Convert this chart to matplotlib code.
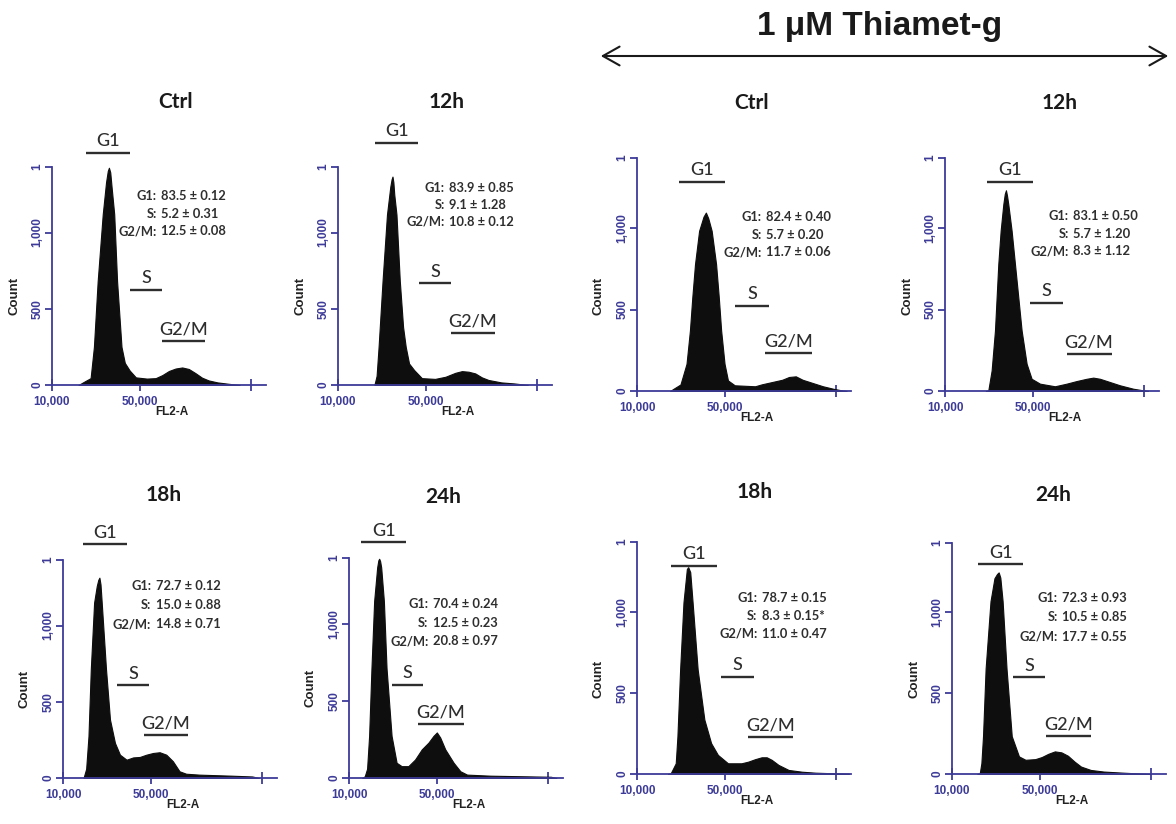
import matplotlib
matplotlib.use("Agg")
import matplotlib.pyplot as plt

# ---------------- data ----------------
panel_titles = ["Ctrl", "12h", "18h", "24h", "Ctrl", "12h", "18h", "24h"]

fl2_ctrl = [22000, 25000, 27500, 29000, 30700, 33000, 34500, 35300, 35800, 36400, 37000, 38200, 39500, 41500, 43000, 45200,
            48000, 53000, 57000, 60000, 63000, 66000, 69000, 72000, 75000, 78000, 81000, 85000, 90000, 95000]
count_ctrl = [0, 25, 45, 250, 680, 1120, 1330, 1405, 1425, 1395, 1300, 1120, 680, 250, 145, 95,
              50, 42, 45, 65, 92, 108, 115, 105, 78, 48, 30, 17, 8, 0]

fl2_12h = [26500, 27500, 28400, 30200, 32200, 33700, 34300, 34700, 35100, 35500, 36500, 38000, 39500, 40700, 42200,
           44500, 48000, 54000, 58700, 63200, 66200, 69200, 72200, 75200, 78200, 84000, 90000, 96000]
count_12h = [0, 60, 250, 684, 1118, 1300, 1350, 1367, 1330, 1250, 1118, 684, 380, 250, 141,
             98, 45, 40, 54, 80, 91, 87, 76, 50, 33, 17, 10, 0]

fl2_18h = [19300, 20500, 21550, 22600, 24100, 25300, 26000, 26500, 27000, 27550, 29500, 31300, 33550, 35800, 38800,
           41800, 44800, 47800, 50800, 53800, 56800, 59800, 62800, 65800, 71800, 86800, 95800, 98800]
count_18h = [0, 60, 274, 712, 1150, 1259, 1300, 1314, 1270, 1150, 712, 383, 230, 153, 120,
             135, 138, 153, 164, 169, 153, 110, 44, 28, 22, 15, 10, 0]

fl2_24h = [16000, 17140, 18200, 19120, 20180, 21400, 22770, 23300, 23680, 24100, 24590, 25810, 27020, 29300, 31580, 33860,
           36900, 39940, 42980, 46020, 48300, 49820, 51340, 53620, 57420, 60460, 63500, 74140, 101500, 104000]
count_24h = [0, 11, 60, 274, 712, 1150, 1369, 1415, 1425, 1410, 1369, 1150, 712, 274, 99, 77,
             77, 120, 186, 230, 274, 296, 263, 186, 99, 44, 22, 15, 8, 0]

fl2_tmg_ctrl = [25000, 26600, 29700, 32450, 33990, 35070, 36300, 38150, 40150, 41220, 42300, 43840, 45840, 47070, 48140,
                49680, 51220, 54300, 63520, 66600, 71210, 75830, 78900, 81980, 85050, 89670, 94280, 98900, 102740, 105000]
count_tmg_ctrl = [0, 14, 40, 167, 371, 575, 779, 983, 1070, 1095, 1060, 983, 779, 575, 371,
                  167, 65, 35, 29, 41, 55, 69, 86, 90, 69, 49, 29, 14, 4, 0]

fl2_tmg_12h = [28500, 29630, 31140, 32650, 34160, 35220, 36430, 37100, 37630, 38100, 38690, 40200, 41710, 43220, 44730, 47000,
               49260, 53040, 59830, 65110, 69640, 74180, 77200, 80220, 84750, 89280, 95320, 99850, 102000]
count_tmg_12h = [0, 4, 126, 371, 779, 983, 1146, 1210, 1232, 1200, 1146, 983, 779, 575, 371, 167,
                 75, 45, 29, 45, 61, 75, 82, 75, 55, 35, 14, 4, 0]

fl2_tmg_18h = [24000, 25270, 27560, 28320, 29550, 31070, 32600, 33210, 34130, 35200, 37490, 40540, 43590, 46650,
               51230, 57340, 60390, 63450, 66500, 68790, 71080, 74130, 78720, 84820, 90930, 100090, 106000]
count_tmg_18h = [0, 4, 66, 231, 645, 1058, 1264, 1275, 1244, 1058, 645, 335, 190, 118,
                 66, 66, 76, 91, 103, 103, 87, 56, 25, 14, 8, 4, 2]

fl2_tmg_24h = [21500, 22580, 23320, 24060, 25240, 27460, 29240, 30400, 31160, 31900, 32940, 34720, 37080, 40340, 43300,
               47740, 50700, 53660, 56620, 59580, 62540, 65500, 68460, 72900, 78820, 87700, 96580, 100000]
count_tmg_24h = [0, 4, 67, 234, 652, 1070, 1212, 1238, 1248, 1216, 1070, 652, 234, 109, 88,
                 92, 105, 125, 140, 134, 113, 77, 46, 25, 15, 8, 2, 0]

fl2_series = [fl2_ctrl, fl2_12h, fl2_18h, fl2_24h, fl2_tmg_ctrl, fl2_tmg_12h, fl2_tmg_18h, fl2_tmg_24h]
count_series = [count_ctrl, count_12h, count_18h, count_24h,
                count_tmg_ctrl, count_tmg_12h, count_tmg_18h, count_tmg_24h]

# phase percentages (mean, sd)
g1_mean = [83.5, 83.9, 72.7, 70.4, 82.4, 83.1, 78.7, 72.3]
g1_sd = [0.12, 0.85, 0.12, 0.24, 0.40, 0.50, 0.15, 0.93]
s_mean = [5.2, 9.1, 15.0, 12.5, 5.7, 5.7, 8.3, 10.5]
s_sd = [0.31, 1.28, 0.88, 0.23, 0.20, 1.20, 0.15, 0.85]
s_mark = ["", "", "", "", "", "", "*", ""]
g2m_mean = [12.5, 10.8, 14.8, 20.8, 11.7, 8.3, 11.0, 17.7]
g2m_sd = [0.08, 0.12, 0.71, 0.97, 0.06, 1.12, 0.47, 0.55]

# gate markers (FL2-A start, FL2-A end, count level)
gate_g1 = [(25450, 45250, 1525), (26950, 46450, 1588), (19000, 39100, 1533), (15620, 35840, 1533),
           (28900, 49700, 1285), (29180, 49710, 1285), (25580, 46340, 1285), (22000, 42100, 1300)]
gate_s = [(45550, 59950, 625), (46750, 61150, 668), (34600, 49000, 607), (29300, 43440, 607),
          (54600, 69700, 524), (48500, 63300, 541), (48180, 62990, 599), (37800, 52200, 600)]
gate_g2m = [(59950, 79450, 289), (61300, 80950, 343), (46600, 66700, 285), (41460, 61980, 350),
            (67800, 89350, 233), (65100, 85500, 228), (60090, 80850, 231), (52600, 72900, 234)]

x_ticks = [10000, 50000, 100000]
x_ticklabels = ["10,000", "50,000", ""]
y_ticks = [0, 500, 1000, 1430]
y_ticklabels = ["0", "500", "1,000", "1"]

# ---------------- layout (pixels) ----------------
W, H = 1176, 824
# left spine x, baseline y, axes height
panel_box = [(52, 385, 218), (338, 385, 218), (63, 778, 218), (349, 778, 220),
             (637, 391, 233), (945, 391, 233), (637, 774, 232), (952, 774, 231)]
title_pos = [(176, 102), (447, 102), (164, 495), (443, 497),
             (752, 103), (1060, 103), (755, 492), (1053, 495)]
# stats block: colon x (data), first line y (data), line step (data)
stats_pos = [(57550, 1237, 114), (58450, 1295, 112), (50050, 1259, 126), (46020, 1128, 120),
             (66600, 1069, 109), (66170, 1075, 109), (64670, 1083, 110), (58100, 1087, 118)]
AX_W = 214
XMAX = 107000
YMAX = 1430

BLUE = "#3d3b98"
TXT = "#2e2e2e"

fig = plt.figure(figsize=(W / 100, H / 100), dpi=100)
fig.patch.set_facecolor("white")


def fx(px):
    return px / W


def fy(py):
    return 1 - py / H


tick_font = dict(family=["Liberation Sans", "DejaVu Sans"], weight="bold", size=8.5, color=BLUE)

for i in range(8):
    l, b, h = panel_box[i]
    ax = fig.add_axes([fx(l), fy(b), AX_W / W, h / H])
    ax.fill_between(fl2_series[i], count_series[i], 0, facecolor="#0e0e0e",
                    edgecolor="#0e0e0e", lw=0.8, zorder=2)
    ax.set_xlim(10000, XMAX)
    ax.set_ylim(0, YMAX)
    for s in ["top", "right"]:
        ax.spines[s].set_visible(False)
    for s in ["left", "bottom"]:
        ax.spines[s].set_color(BLUE)
        ax.spines[s].set_linewidth(1.3)
        ax.spines[s].set_zorder(3)
    ax.set_xticks(x_ticks)
    ax.set_xticklabels(x_ticklabels, fontdict=tick_font)
    ax.set_yticks(y_ticks)
    ax.set_yticklabels(y_ticklabels, fontdict=tick_font, rotation=90, va="center")
    ax.tick_params(axis="x", direction="inout", length=8, width=1.3, color=BLUE, pad=4)
    ax.tick_params(axis="y", direction="out", length=5, width=1.3, color=BLUE, pad=1.2)
    ax.set_facecolor("none")

    # gates
    for gate, lab in ((gate_g1[i], "G1"), (gate_s[i], "S"), (gate_g2m[i], "G2/M")):
        x0, x1, gy = gate
        ax.plot([x0, x1], [gy, gy], color=TXT, lw=1.7, clip_on=False, solid_capstyle="butt")
        ax.annotate(lab, xy=((x0 + x1) / 2, gy), xytext=(0, 2.5), textcoords="offset points",
                    ha="center", va="bottom", fontsize=13, family=["Lato", "DejaVu Sans"],
                    fontweight="medium", color=TXT, annotation_clip=False)

    # stats
    cx, cy, step = stats_pos[i]
    rows = [("G1:", f"{g1_mean[i]:.1f} \u00b1 {g1_sd[i]:.2f}"),
            ("S:", f"{s_mean[i]:.1f} \u00b1 {s_sd[i]:.2f}{s_mark[i]}"),
            ("G2/M:", f"{g2m_mean[i]:.1f} \u00b1 {g2m_sd[i]:.2f}")]
    for k, (lab, val) in enumerate(rows):
        yy = cy - k * step
        ax.text(cx, yy, lab, ha="right", va="center", fontsize=9.3, fontweight="bold",
                family=["Lato", "DejaVu Sans"], color=TXT, clip_on=False)
        ax.text(cx + 1900, yy, val, ha="left", va="center", fontsize=9.3, fontweight="bold",
                family=["Lato", "DejaVu Sans"], color=TXT, clip_on=False)

    # axis labels
    fig.text(fx(l + 120), fy(b + 27), "FL2-A", ha="center", va="center", fontsize=8.5,
             fontweight="bold", family=["Liberation Sans", "DejaVu Sans"], color="#222222")
    fig.text(fx(l - 38), fy(b - 0.41 * h), "Count", ha="center", va="center", rotation=90,
             fontsize=9.5, fontweight="bold", family=["Liberation Sans", "DejaVu Sans"], color="#222222")

    # title
    tx, ty = title_pos[i]
    fig.text(fx(tx), fy(ty), panel_titles[i], ha="center", va="center", fontsize=15,
             fontweight="bold", family=["Lato", "DejaVu Sans"], color="#1a1a1a")

# group header
fig.text(fx(880), fy(27), "1 \u03bcM Thiamet-g", ha="center", va="center", fontsize=24,
         fontweight="bold", family=["Liberation Sans", "DejaVu Sans"], color="#1a1a1a")
fig.add_artist(matplotlib.patches.FancyArrowPatch(
    (fx(598), fy(56)), (fx(1171), fy(56)), transform=fig.transFigure,
    arrowstyle="<->,head_length=0.8,head_width=0.45", mutation_scale=15,
    lw=1.5, color="#1a1a1a"))

fig.savefig("out.png", dpi=100, facecolor="white")
